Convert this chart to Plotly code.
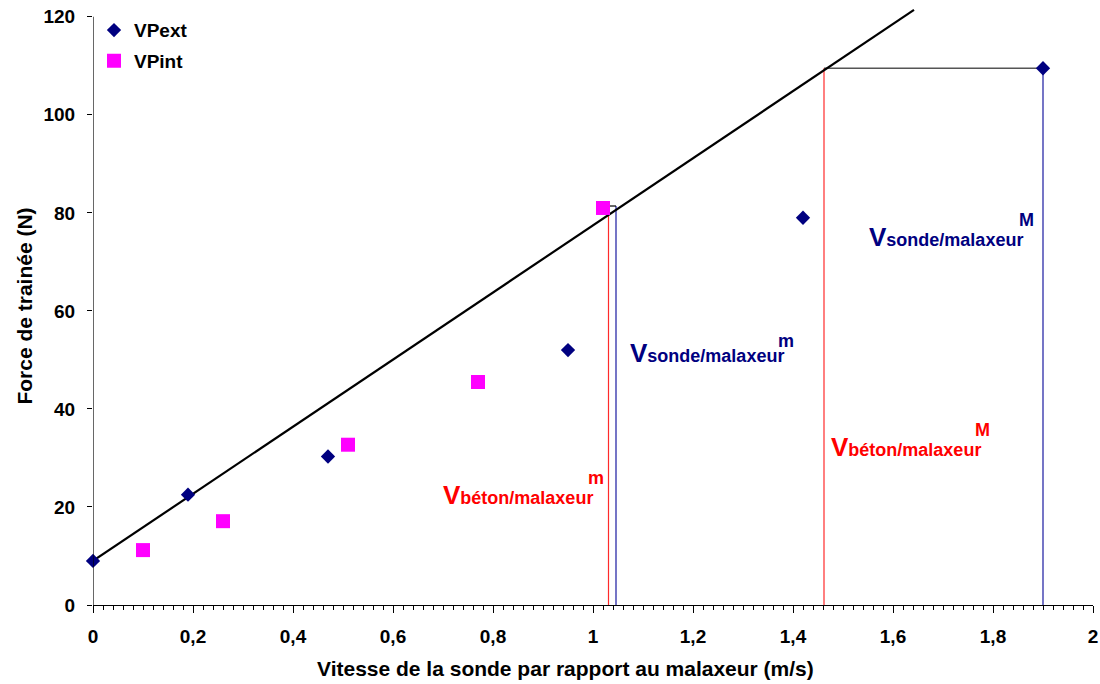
import plotly.graph_objects as go

# Measured points: probe velocity (m/s) vs drag force (N)
vpext_x = [0.0, 0.19, 0.47, 0.95, 1.42, 1.90]
vpext_y = [9.0, 22.5, 30.3, 52.0, 79.0, 109.5]
vpint_x = [0.10, 0.26, 0.51, 0.77, 1.02]
vpint_y = [11.2, 17.1, 32.7, 45.5, 81.0]

# Linear trend line (end points)
trend_x = [0.0, 1.642]
trend_y = [9.0, 121.4]

# Reference velocities (m: low, M: high) and the force levels they are read at
v_beton = [1.031, 1.462]
v_sonde = [1.046, 1.900]
force_level = [81.4, 109.5]
link_start = [1.022, 1.462]

# Axis ticks
x_tickvals = [0, 0.2, 0.4, 0.6, 0.8, 1.0, 1.2, 1.4, 1.6, 1.8, 2.0]
x_ticktext = ["0", "0,2", "0,4", "0,6", "0,8", "1", "1,2", "1,4", "1,6", "1,8", "2"]
y_tickvals = [0, 20, 40, 60, 80, 100, 120]
y_ticktext = ["0", "20", "40", "60", "80", "100", "120"]

NAVY = "#000080"
LINE_BLUE = "#1A1AA0"
MAGENTA = "#FF00FF"
RED_TEXT = "#FF0000"
RED_LINE = "#FF2A2A"
FONT = "Arial, Liberation Sans, sans-serif"

fig = go.Figure()

# Vertical guide lines from the axis up to the force level
for vb, vs, f in zip(v_beton, v_sonde, force_level):
    fig.add_trace(go.Scatter(x=[vb, vb], y=[0, f], mode="lines",
                             line=dict(color=RED_LINE, width=1.2),
                             showlegend=False, hoverinfo="skip"))
    fig.add_trace(go.Scatter(x=[vs, vs], y=[0, f], mode="lines",
                             line=dict(color=LINE_BLUE, width=1.2),
                             showlegend=False, hoverinfo="skip"))

# Horizontal links at each force level
fig.add_trace(go.Scatter(x=[link_start[0], v_sonde[0]], y=[force_level[0]] * 2,
                         mode="lines", line=dict(color="#000000", width=1.2),
                         showlegend=False, hoverinfo="skip"))
fig.add_trace(go.Scatter(x=[link_start[1], v_sonde[1]], y=[force_level[1]] * 2,
                         mode="lines", line=dict(color="#555555", width=1.5),
                         showlegend=False, hoverinfo="skip"))

# Trend line
fig.add_trace(go.Scatter(x=trend_x, y=trend_y, mode="lines",
                         line=dict(color="#000000", width=2.2),
                         showlegend=False, hoverinfo="skip"))

# Data series
fig.add_trace(go.Scatter(x=vpext_x, y=vpext_y, mode="markers", name="VPext",
                         legendgroup="ext",
                         marker=dict(symbol="diamond", size=11, color=NAVY,
                                     line=dict(width=0)),
                         cliponaxis=False))
fig.add_trace(go.Scatter(x=vpint_x, y=vpint_y, mode="markers", name="VPint",
                         legendgroup="int",
                         marker=dict(symbol="square", size=14, color=MAGENTA,
                                     line=dict(width=0)),
                         cliponaxis=False))

# Y axis line drawn only up to 120
fig.add_shape(type="line", xref="x", yref="y", x0=0, x1=0, y0=0, y1=120,
              line=dict(color="#000000", width=1.2))

def label(x, y, text, color, size):
    fig.add_annotation(x=x, y=y, xref="x", yref="y", text=text, showarrow=False,
                       xanchor="left", yanchor="bottom",
                       font=dict(family=FONT, size=size, color=color))

sub = "<span style='font-size:18px'>{}</span>"
label(1.070, 47.9, "<b>V" + sub.format("sonde/malaxeur") + "</b>", NAVY, 26)
label(1.366, 51.5, "<b>m</b>", NAVY, 18)
label(1.548, 71.7, "<b>V" + sub.format("sonde/malaxeur") + "</b>", NAVY, 26)
label(1.848, 76.2, "<b>M</b>", NAVY, 18)
label(0.696, 18.9, "<b>V" + sub.format("béton/malaxeur") + "</b>", RED_TEXT, 26)
label(0.986, 23.5, "<b>m</b>", RED_TEXT, 18)
label(1.472, 28.7, "<b>V" + sub.format("béton/malaxeur") + "</b>", RED_TEXT, 26)
label(1.760, 33.3, "<b>M</b>", RED_TEXT, 18)

# X axis title
fig.add_annotation(x=(565 - 93) / 1000, y=(605 - 668) / 598,
                   xref="paper", yref="paper", showarrow=False,
                   xanchor="center", yanchor="middle",
                   text="<b>Vitesse de la sonde par rapport au malaxeur (m/s)</b>",
                   font=dict(family=FONT, size=21, color="#000000"))

fig.update_layout(
    width=1100, height=684,
    margin=dict(l=93, r=7, t=7, b=79, autoexpand=False),
    paper_bgcolor="#FFFFFF", plot_bgcolor="#FFFFFF",
    font=dict(family=FONT, color="#000000"),
    showlegend=True,
    legend=dict(x=0.001, y=0.993, xanchor="left", yanchor="top",
                tracegroupgap=3,
                bgcolor="rgba(0,0,0,0)", borderwidth=0,
                font=dict(family=FONT, size=19, color="#000000", weight="bold")),
    xaxis=dict(range=[0, 2], tickvals=x_tickvals, ticktext=x_ticktext,
               automargin=False,
               showgrid=False, zeroline=False, showline=True,
               linecolor="#000000", linewidth=1.2,
               ticks="outside", ticklen=7, tickwidth=1.2, tickcolor="#000000",
               minor=dict(dtick=0.02, ticks="outside", ticklen=4,
                          tickwidth=1, tickcolor="#000000", showgrid=False),
               ticklabelstandoff=7,
               tickfont=dict(family=FONT, size=19, color="#000000", weight="bold")),
    yaxis=dict(range=[0, 122], tickvals=y_tickvals, ticktext=y_ticktext,
               automargin=False,
               showgrid=False, zeroline=False, showline=False,
               ticks="outside", ticklen=5, tickwidth=1.2, tickcolor="#000000",
               ticklabelstandoff=8,
               title=dict(text="<b>Force de trainée (N)</b>", standoff=5,
                          font=dict(family=FONT, size=21, color="#000000")),
               tickfont=dict(family=FONT, size=19, color="#000000", weight="bold")),
)

fig.write_html("out.html")
